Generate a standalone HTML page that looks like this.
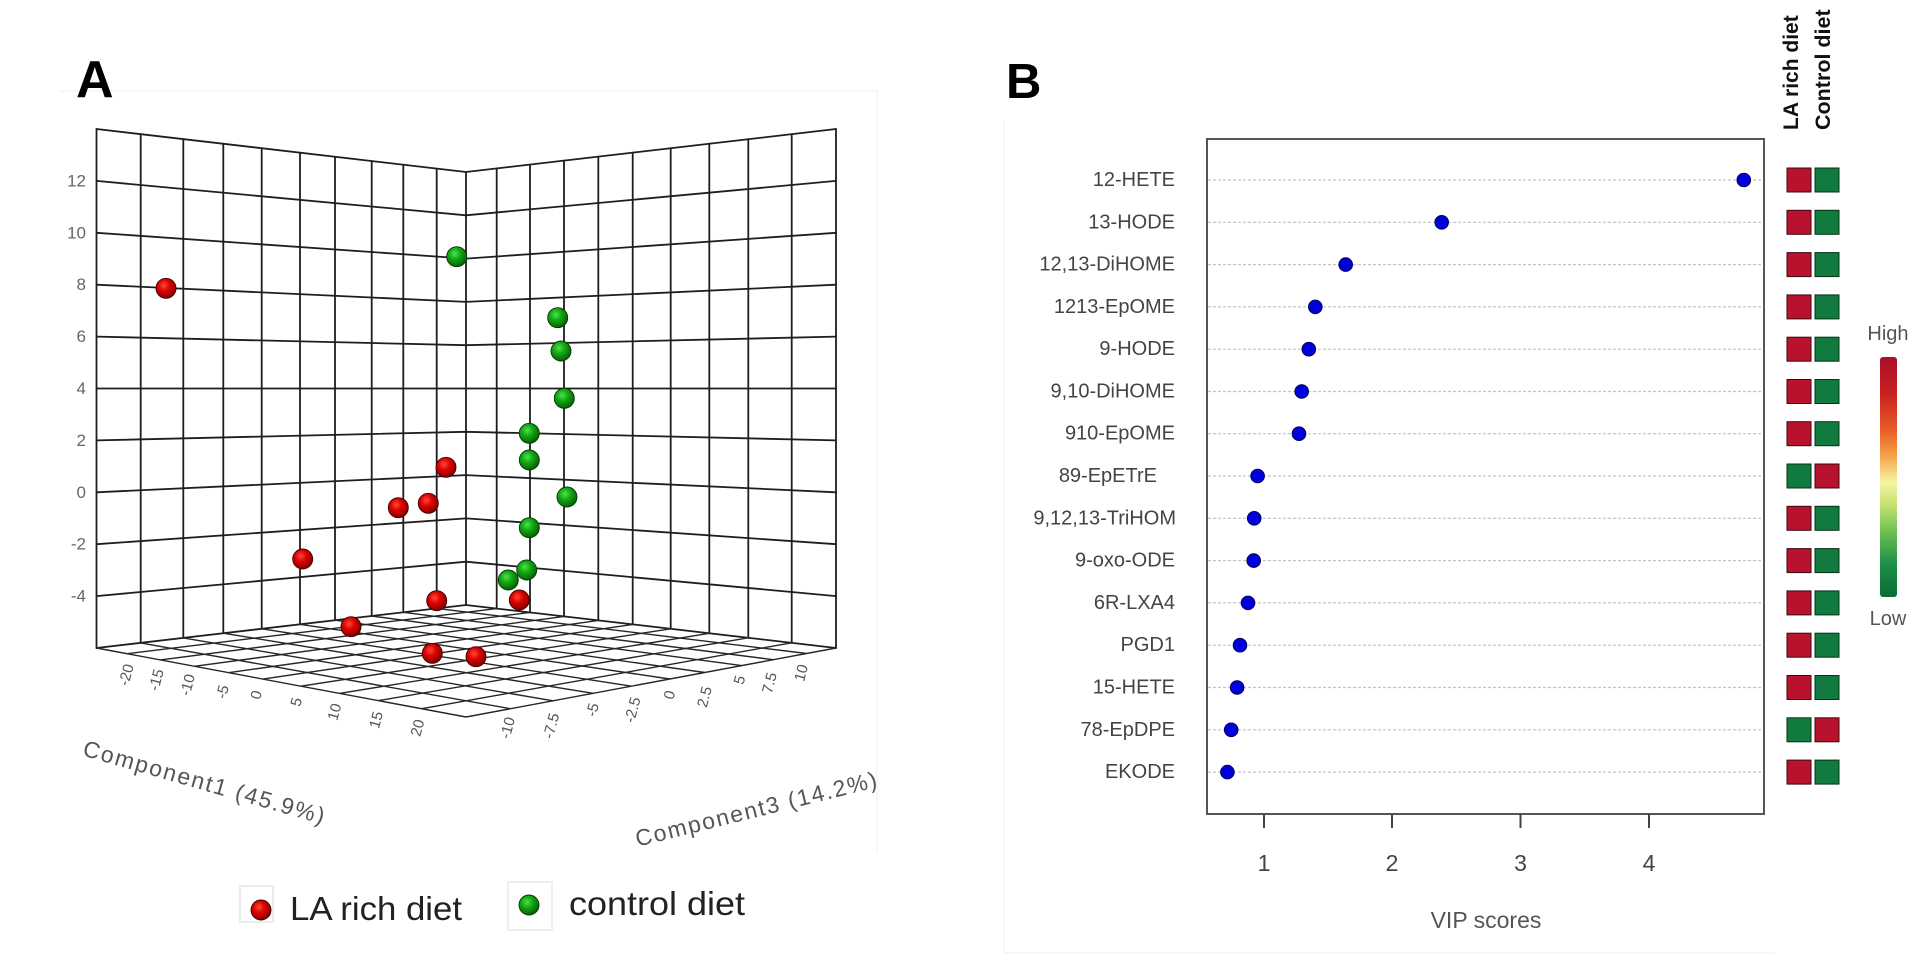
<!DOCTYPE html>
<html><head><meta charset="utf-8"><style>
html,body{margin:0;padding:0;background:#fff;}
svg{display:block;font-family:"Liberation Sans",Arial,sans-serif;}
</style></head><body>
<svg width="1920" height="964" viewBox="0 0 1920 964" xmlns="http://www.w3.org/2000/svg">
<defs>
<radialGradient id="rg" cx="40%" cy="35%" r="65%">
<stop offset="0" stop-color="#ff4a3a"/><stop offset="0.45" stop-color="#dc0000"/><stop offset="1" stop-color="#850000"/>
</radialGradient>
<radialGradient id="gg" cx="40%" cy="35%" r="65%">
<stop offset="0" stop-color="#4fe04f"/><stop offset="0.45" stop-color="#12a812"/><stop offset="1" stop-color="#076007"/>
</radialGradient>
<linearGradient id="cb" x1="0" y1="0" x2="0" y2="1">
<stop offset="0" stop-color="#a80f2c"/><stop offset="0.15" stop-color="#c82020"/><stop offset="0.3" stop-color="#e85a28"/>
<stop offset="0.4" stop-color="#f59a42"/><stop offset="0.52" stop-color="#f6f4a2"/><stop offset="0.62" stop-color="#c4e070"/>
<stop offset="0.73" stop-color="#6cbf52"/><stop offset="0.86" stop-color="#1e9048"/><stop offset="1" stop-color="#0a6a36"/>
</linearGradient>
</defs>

<!-- faint frames -->
<g stroke="#efefef" stroke-width="1" fill="none">
<line x1="60" y1="91" x2="877" y2="91"/>
<line x1="877" y1="91" x2="877" y2="853"/>
<line x1="1004" y1="120" x2="1004" y2="953"/>
<line x1="1004" y1="953" x2="1775" y2="953"/>
</g>

<!-- Panel letters -->
<text x="76" y="97" font-size="52" font-weight="bold" fill="#000">A</text>
<text x="1006" y="98" font-size="49" font-weight="bold" fill="#000">B</text>

<!-- ===== Panel A 3D grid ===== -->
<g stroke="#1e1e1e" stroke-width="1.8" fill="none" stroke-linecap="round">
<line x1="466" y1="172" x2="466" y2="605"/>
<line x1="436.7" y1="168.6" x2="436.7" y2="608.4"/>
<line x1="403.3" y1="164.7" x2="403.3" y2="612.3"/>
<line x1="371.7" y1="161.0" x2="371.7" y2="616.0"/>
<line x1="335" y1="156.8" x2="335" y2="620.2"/>
<line x1="300" y1="152.7" x2="300" y2="624.3"/>
<line x1="261.7" y1="148.2" x2="261.7" y2="628.8"/>
<line x1="223.3" y1="143.8" x2="223.3" y2="633.2"/>
<line x1="183.3" y1="139.1" x2="183.3" y2="637.9"/>
<line x1="140.7" y1="134.1" x2="140.7" y2="642.9"/>
<line x1="96.5" y1="129" x2="96.5" y2="648"/>
<line x1="496.7" y1="168.4" x2="496.7" y2="608.6"/>
<line x1="530" y1="164.6" x2="530" y2="612.4"/>
<line x1="564" y1="160.6" x2="564" y2="616.4"/>
<line x1="598.3" y1="156.6" x2="598.3" y2="620.4"/>
<line x1="632.7" y1="152.6" x2="632.7" y2="624.4"/>
<line x1="670.7" y1="148.2" x2="670.7" y2="628.8"/>
<line x1="709.3" y1="143.7" x2="709.3" y2="633.3"/>
<line x1="748.3" y1="139.2" x2="748.3" y2="637.8"/>
<line x1="791.7" y1="134.2" x2="791.7" y2="642.8"/>
<line x1="836" y1="129" x2="836" y2="648"/>
<polyline points="96.5,129 466,172 836,129"/>
<polyline points="96.5,180.9 466,215.3 836,180.9"/>
<polyline points="96.5,232.8 466,258.6 836,232.8"/>
<polyline points="96.5,284.7 466,301.9 836,284.7"/>
<polyline points="96.5,336.6 466,345.2 836,336.6"/>
<polyline points="96.5,388.5 466,388.5 836,388.5"/>
<polyline points="96.5,440.4 466,431.8 836,440.4"/>
<polyline points="96.5,492.3 466,475.1 836,492.3"/>
<polyline points="96.5,544.2 466,518.4 836,544.2"/>
<polyline points="96.5,596.1 466,561.7 836,596.1"/>
<polyline points="96.5,648 466,605 836,648"/>
</g>
<!-- floor -->
<g stroke="#262626" stroke-width="1.4" fill="none">
<line x1="436.7" y1="608.4" x2="806.7" y2="653.5"/>
<line x1="403.3" y1="612.3" x2="773.2" y2="659.7"/>
<line x1="371.7" y1="616.0" x2="741.6" y2="665.6"/>
<line x1="335" y1="620.2" x2="704.8" y2="672.5"/>
<line x1="300" y1="624.3" x2="669.8" y2="679.0"/>
<line x1="261.7" y1="628.8" x2="631.4" y2="686.2"/>
<line x1="223.3" y1="633.2" x2="593" y2="693.3"/>
<line x1="183.3" y1="637.9" x2="553" y2="700.8"/>
<line x1="140.7" y1="642.9" x2="510.3" y2="708.7"/>
<line x1="96.5" y1="648" x2="466" y2="717"/>
<line x1="496.7" y1="608.6" x2="127.2" y2="653.7"/>
<line x1="530" y1="612.4" x2="160.4" y2="659.9"/>
<line x1="564" y1="616.4" x2="194.4" y2="666.3"/>
<line x1="598.3" y1="620.4" x2="228.6" y2="672.7"/>
<line x1="632.7" y1="624.4" x2="263" y2="679.1"/>
<line x1="670.7" y1="628.8" x2="300.9" y2="686.2"/>
<line x1="709.3" y1="633.3" x2="339.5" y2="693.4"/>
<line x1="748.3" y1="637.8" x2="378.4" y2="700.6"/>
<line x1="791.7" y1="642.8" x2="421.7" y2="708.7"/>
<line x1="836" y1="648" x2="466" y2="717"/>
</g>

<!-- y tick labels -->
<g font-size="17" fill="#666" text-anchor="end" dominant-baseline="central">
<text x="86" y="180.9">12</text>
<text x="86" y="232.8">10</text>
<text x="86" y="284.7">8</text>
<text x="86" y="336.6">6</text>
<text x="86" y="388.5">4</text>
<text x="86" y="440.4">2</text>
<text x="86" y="492.3">0</text>
<text x="86" y="544.2">-2</text>
<text x="86" y="596.1">-4</text>
</g>

<!-- comp1 / comp3 tick labels -->
<g font-size="15" fill="#555" text-anchor="middle" dominant-baseline="central">
<text transform="translate(126.7,675) rotate(-75)">-20</text>
<text transform="translate(156.7,680) rotate(-75)">-15</text>
<text transform="translate(188,685) rotate(-75)">-10</text>
<text transform="translate(223,692) rotate(-75)">-5</text>
<text transform="translate(256.7,695) rotate(-75)">0</text>
<text transform="translate(296.7,702) rotate(-75)">5</text>
<text transform="translate(335,712) rotate(-75)">10</text>
<text transform="translate(376.7,720) rotate(-75)">15</text>
<text transform="translate(418,728) rotate(-75)">20</text>
<text transform="translate(508,728) rotate(-75)">-10</text>
<text transform="translate(551.7,726) rotate(-75)">-7.5</text>
<text transform="translate(593,710) rotate(-75)">-5</text>
<text transform="translate(633,710) rotate(-75)">-2.5</text>
<text transform="translate(670,695) rotate(-75)">0</text>
<text transform="translate(705,697) rotate(-75)">2.5</text>
<text transform="translate(740,680) rotate(-75)">5</text>
<text transform="translate(770,683) rotate(-75)">7.5</text>
<text transform="translate(801.7,673) rotate(-75)">10</text>
</g>

<!-- axis titles -->
<text transform="translate(204,782) rotate(16)" font-size="23" fill="#555" text-anchor="middle" dominant-baseline="central" textLength="250" lengthAdjust="spacing">Component1 (45.9%)</text>
<text transform="translate(756,809) rotate(-14)" font-size="23" fill="#555" text-anchor="middle" dominant-baseline="central" textLength="248" lengthAdjust="spacing">Component3 (14.2%)</text>

<!-- green balls -->
<g stroke="#043804" stroke-width="0.9" fill="url(#gg)">
<circle cx="456.7" cy="256.7" r="10"/>
<circle cx="557.7" cy="317.7" r="10"/>
<circle cx="561" cy="351" r="10"/>
<circle cx="564.3" cy="398.3" r="10"/>
<circle cx="529.3" cy="433.3" r="10"/>
<circle cx="529.3" cy="460" r="10"/>
<circle cx="567" cy="497" r="10"/>
<circle cx="529.3" cy="527.7" r="10"/>
<circle cx="526.7" cy="570" r="10"/>
<circle cx="508.3" cy="580" r="10"/>
</g>
<!-- red balls -->
<g stroke="#400000" stroke-width="0.9" fill="url(#rg)">
<circle cx="166" cy="288.3" r="10"/>
<circle cx="446" cy="467.3" r="10"/>
<circle cx="398.3" cy="507.7" r="10"/>
<circle cx="428.3" cy="503.3" r="10"/>
<circle cx="302.7" cy="559" r="10"/>
<circle cx="436.7" cy="600.7" r="10"/>
<circle cx="351" cy="626.7" r="10"/>
<circle cx="432.3" cy="653.3" r="10"/>
<circle cx="476" cy="656.7" r="10"/>
<circle cx="519.3" cy="600" r="10"/>
</g>

<!-- legend -->
<rect x="240" y="886" width="33" height="36" fill="none" stroke="#e4e4ea" stroke-width="1.5"/>
<circle cx="261" cy="910" r="10" fill="url(#rg)" stroke="#400000" stroke-width="0.9"/>
<text x="290" y="920" font-size="33" fill="#222" textLength="172" lengthAdjust="spacingAndGlyphs">LA rich diet</text>
<rect x="508" y="882" width="44" height="48" fill="none" stroke="#e8e8e8" stroke-width="1.5"/>
<circle cx="529" cy="905" r="10" fill="url(#gg)" stroke="#043804" stroke-width="0.9"/>
<text x="569" y="915" font-size="33" fill="#222" textLength="176" lengthAdjust="spacingAndGlyphs">control diet</text>

<!-- ===== Panel B ===== -->
<g stroke="#c4c4c4" stroke-width="1.2" stroke-dasharray="3,2">
<line x1="1208" y1="180" x2="1763" y2="180"/>
<line x1="1208" y1="222.3" x2="1763" y2="222.3"/>
<line x1="1208" y1="264.6" x2="1763" y2="264.6"/>
<line x1="1208" y1="306.9" x2="1763" y2="306.9"/>
<line x1="1208" y1="349.2" x2="1763" y2="349.2"/>
<line x1="1208" y1="391.5" x2="1763" y2="391.5"/>
<line x1="1208" y1="433.7" x2="1763" y2="433.7"/>
<line x1="1208" y1="476" x2="1763" y2="476"/>
<line x1="1208" y1="518.3" x2="1763" y2="518.3"/>
<line x1="1208" y1="560.6" x2="1763" y2="560.6"/>
<line x1="1208" y1="602.9" x2="1763" y2="602.9"/>
<line x1="1208" y1="645.2" x2="1763" y2="645.2"/>
<line x1="1208" y1="687.5" x2="1763" y2="687.5"/>
<line x1="1208" y1="729.8" x2="1763" y2="729.8"/>
<line x1="1208" y1="772.1" x2="1763" y2="772.1"/>
</g>
<rect x="1207" y="139" width="557" height="675" fill="none" stroke="#555" stroke-width="2"/>
<g stroke="#444" stroke-width="2">
<line x1="1264" y1="814" x2="1264" y2="828"/>
<line x1="1392" y1="814" x2="1392" y2="828"/>
<line x1="1520.5" y1="814" x2="1520.5" y2="828"/>
<line x1="1649" y1="814" x2="1649" y2="828"/>
</g>
<g font-size="23" fill="#444" text-anchor="middle">
<text x="1264" y="871">1</text>
<text x="1392" y="871">2</text>
<text x="1520.5" y="871">3</text>
<text x="1649" y="871">4</text>
</g>
<text x="1486" y="928" font-size="23" fill="#555" text-anchor="middle">VIP scores</text>

<g font-size="20" fill="#444" text-anchor="end" dominant-baseline="central">
<text x="1175" y="180">12-HETE</text>
<text x="1175" y="222.3">13-HODE</text>
<text x="1175" y="264.6">12,13-DiHOME</text>
<text x="1175" y="306.9">1213-EpOME</text>
<text x="1175" y="349.2">9-HODE</text>
<text x="1175" y="391.5">9,10-DiHOME</text>
<text x="1175" y="433.7">910-EpOME</text>
<text x="1157" y="476">89-EpETrE</text>
<text x="1176" y="518.3">9,12,13-TriHOM</text>
<text x="1175" y="560.6">9-oxo-ODE</text>
<text x="1175" y="602.9">6R-LXA4</text>
<text x="1175" y="645.2">PGD1</text>
<text x="1175" y="687.5">15-HETE</text>
<text x="1175" y="729.8">78-EpDPE</text>
<text x="1175" y="772.1">EKODE</text>
</g>

<g fill="#0000dd" stroke="#000055" stroke-width="1">
<circle cx="1743.8" cy="180" r="6.8"/>
<circle cx="1441.7" cy="222.3" r="6.8"/>
<circle cx="1345.7" cy="264.6" r="6.8"/>
<circle cx="1315.3" cy="306.9" r="6.8"/>
<circle cx="1308.8" cy="349.2" r="6.8"/>
<circle cx="1301.7" cy="391.5" r="6.8"/>
<circle cx="1299" cy="433.7" r="6.8"/>
<circle cx="1257.6" cy="476" r="6.8"/>
<circle cx="1254.2" cy="518.3" r="6.8"/>
<circle cx="1253.7" cy="560.6" r="6.8"/>
<circle cx="1248" cy="602.9" r="6.8"/>
<circle cx="1240" cy="645.2" r="6.8"/>
<circle cx="1237.1" cy="687.5" r="6.8"/>
<circle cx="1231.2" cy="729.8" r="6.8"/>
<circle cx="1227.4" cy="772.1" r="6.8"/>
</g>

<text transform="translate(1798,130) rotate(-90)" font-size="21" font-weight="bold" fill="#111">LA rich diet</text>
<text transform="translate(1830,130) rotate(-90)" font-size="21.5" font-weight="bold" fill="#111">Control diet</text>

<g stroke="#3a0a10" stroke-width="1">
<rect x="1787" y="168" width="24" height="24" fill="#b8122e"/><rect x="1815" y="168" width="24" height="24" fill="#117a3e" stroke="#0a3018"/>
<rect x="1787" y="210.3" width="24" height="24" fill="#b8122e"/><rect x="1815" y="210.3" width="24" height="24" fill="#117a3e" stroke="#0a3018"/>
<rect x="1787" y="252.6" width="24" height="24" fill="#b8122e"/><rect x="1815" y="252.6" width="24" height="24" fill="#117a3e" stroke="#0a3018"/>
<rect x="1787" y="294.9" width="24" height="24" fill="#b8122e"/><rect x="1815" y="294.9" width="24" height="24" fill="#117a3e" stroke="#0a3018"/>
<rect x="1787" y="337.2" width="24" height="24" fill="#b8122e"/><rect x="1815" y="337.2" width="24" height="24" fill="#117a3e" stroke="#0a3018"/>
<rect x="1787" y="379.5" width="24" height="24" fill="#b8122e"/><rect x="1815" y="379.5" width="24" height="24" fill="#117a3e" stroke="#0a3018"/>
<rect x="1787" y="421.7" width="24" height="24" fill="#b8122e"/><rect x="1815" y="421.7" width="24" height="24" fill="#117a3e" stroke="#0a3018"/>
<rect x="1787" y="464" width="24" height="24" fill="#117a3e" stroke="#0a3018"/><rect x="1815" y="464" width="24" height="24" fill="#b8122e"/>
<rect x="1787" y="506.3" width="24" height="24" fill="#b8122e"/><rect x="1815" y="506.3" width="24" height="24" fill="#117a3e" stroke="#0a3018"/>
<rect x="1787" y="548.6" width="24" height="24" fill="#b8122e"/><rect x="1815" y="548.6" width="24" height="24" fill="#117a3e" stroke="#0a3018"/>
<rect x="1787" y="590.9" width="24" height="24" fill="#b8122e"/><rect x="1815" y="590.9" width="24" height="24" fill="#117a3e" stroke="#0a3018"/>
<rect x="1787" y="633.2" width="24" height="24" fill="#b8122e"/><rect x="1815" y="633.2" width="24" height="24" fill="#117a3e" stroke="#0a3018"/>
<rect x="1787" y="675.5" width="24" height="24" fill="#b8122e"/><rect x="1815" y="675.5" width="24" height="24" fill="#117a3e" stroke="#0a3018"/>
<rect x="1787" y="717.8" width="24" height="24" fill="#117a3e" stroke="#0a3018"/><rect x="1815" y="717.8" width="24" height="24" fill="#b8122e"/>
<rect x="1787" y="760.1" width="24" height="24" fill="#b8122e"/><rect x="1815" y="760.1" width="24" height="24" fill="#117a3e" stroke="#0a3018"/>
</g>

<rect x="1880" y="357" width="17" height="240" rx="3" fill="url(#cb)"/>
<text x="1888" y="340" font-size="20" fill="#555" text-anchor="middle">High</text>
<text x="1888" y="625" font-size="20" fill="#555" text-anchor="middle">Low</text>
</svg>
</body></html>
